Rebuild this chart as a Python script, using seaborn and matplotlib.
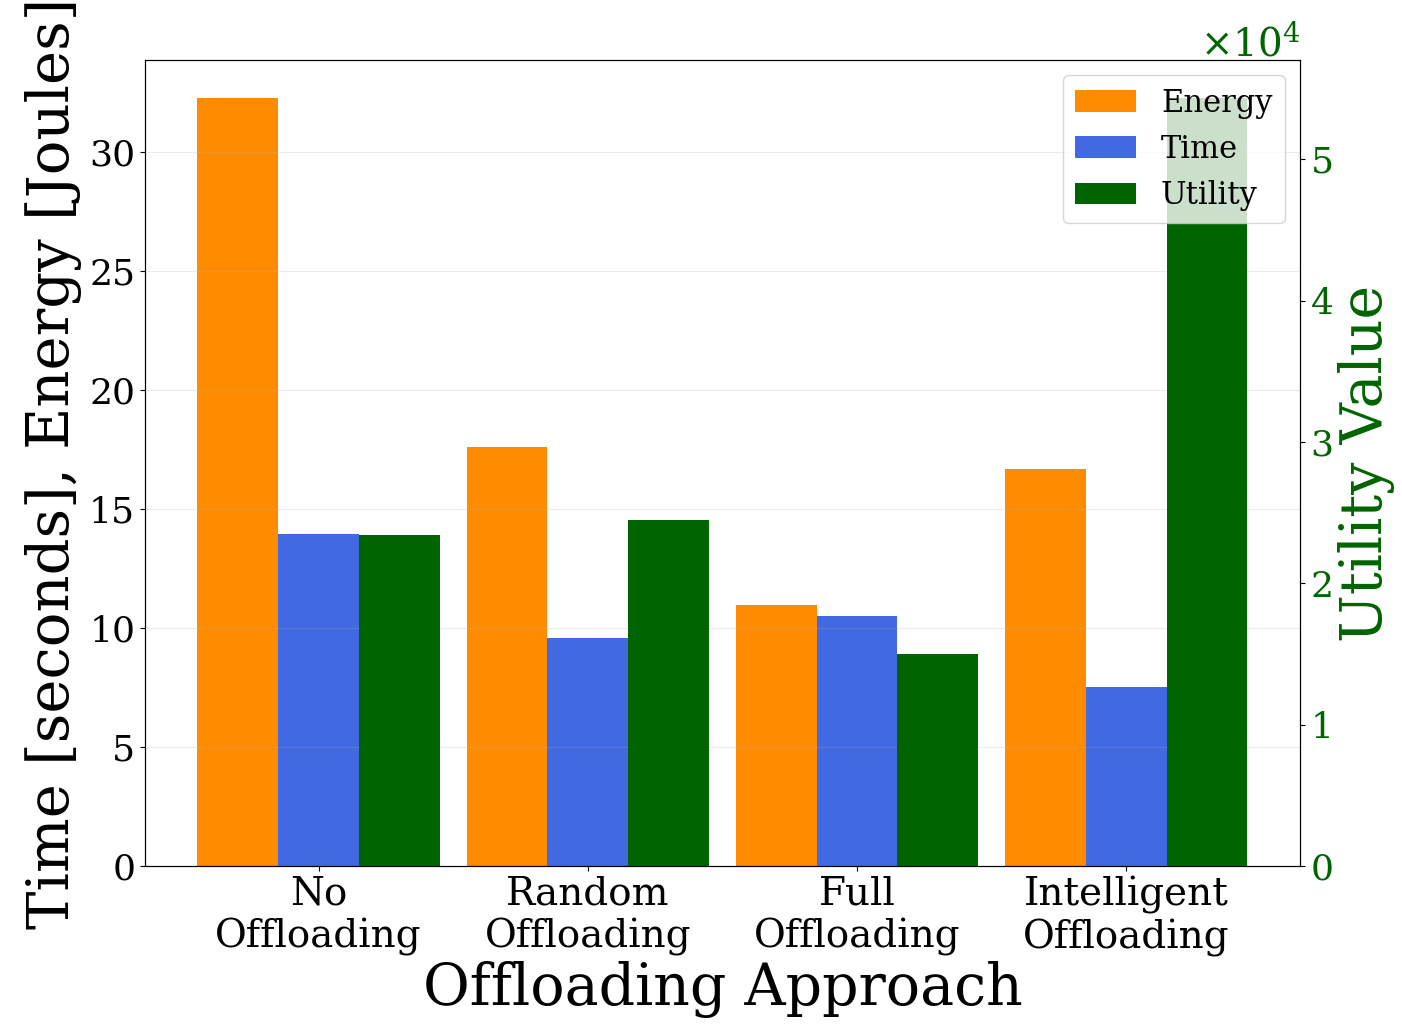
import numpy as np
import pandas as pd
import matplotlib
matplotlib.use("Agg")
import matplotlib.pyplot as plt
from matplotlib.patches import Patch
import seaborn as sns

# ── datos ──
APPROACHES = ["No\nOffloading", "Random\nOffloading",
              "Full\nOffloading", "Intelligent\nOffloading"]
ENERGY = [32.25, 17.6, 10.97, 16.68]      # Joules
TIME_S = [13.95, 9.58, 10.5, 7.52]        # seconds
UTILITY = [23400, 24500, 15000, 54300]    # utility value
METRICS = ["Energy", "Time", "Utility"]
COLORS = {"Energy": "darkorange", "Time": "royalblue", "Utility": "darkgreen"}

plt.rcParams["font.family"] = "DejaVu Serif"
plt.rcParams["mathtext.fontset"] = "dejavuserif"

n = len(APPROACHES)
zeros = [0] * n
# placeholders at 0 keep the three-way dodge on both axes
left_df = pd.DataFrame({
    "Approach": APPROACHES * 3,
    "Metric": ["Energy"] * n + ["Time"] * n + ["Utility"] * n,
    "Value": ENERGY + TIME_S + zeros,
})
right_df = pd.DataFrame({
    "Approach": APPROACHES * 3,
    "Metric": ["Energy"] * n + ["Time"] * n + ["Utility"] * n,
    "Value": zeros + zeros + UTILITY,
})

fig = plt.figure(figsize=(14.02, 10.24), dpi=100)
ax = fig.add_axes([0.1034, 0.1543, 0.8238, 0.7871])
ax2 = ax.twinx()

common = dict(x="Approach", y="Value", hue="Metric", hue_order=METRICS,
              order=APPROACHES, palette=COLORS, saturation=1, width=0.9,
              errorbar=None, legend=False, linewidth=0)
sns.barplot(data=left_df, ax=ax, **common)
sns.barplot(data=right_df, ax=ax2, **common)

ax.set_xlim(-0.645, 3.645)
ax.grid(axis="y", alpha=0.25)
ax.tick_params(axis="y", labelsize=26)
ax.tick_params(axis="x", labelsize=28)
for lbl in ax.get_xticklabels():
    lbl.set_linespacing(1.17)
ax.set_xlabel("Offloading Approach", fontsize=41, labelpad=3)
ax.set_ylabel("Time [seconds], Energy [Joules]", fontsize=41.5, labelpad=5)

ax2.ticklabel_format(axis="y", style="sci", scilimits=(0, 0), useMathText=True)
ax2.tick_params(axis="y", labelsize=26, labelcolor="darkgreen")
ax2.yaxis.get_offset_text().set_fontsize(28)
ax2.yaxis.get_offset_text().set_color("darkgreen")
ax2.set_ylabel("Utility Value", fontsize=41, color="darkgreen")

handles = [Patch(facecolor=COLORS[m], label=m) for m in METRICS]
ax2.legend(handles=handles, loc="upper right", fontsize=22)

plt.savefig("out.png", dpi=100)
